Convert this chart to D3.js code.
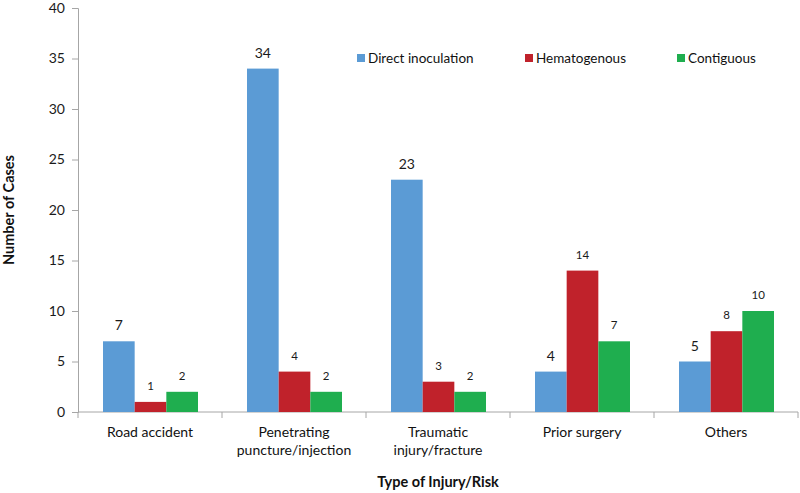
<!DOCTYPE html>
<html><head><meta charset="utf-8">
<script src="https://cdn.jsdelivr.net/npm/d3@7"></script>
<style>body{margin:0;background:#fff;}svg{display:block;font-family:Lato,"Open Sans",sans-serif;}</style>
</head><body><svg id="c" width="800" height="493"></svg>
<script>
const categories = [["Road accident"],["Penetrating","puncture/injection"],["Traumatic","injury/fracture"],["Prior surgery"],["Others"]];
const seriesNames = ["Direct inoculation","Hematogenous","Contiguous"];
const directInoculation = [7,34,23,4,5];
const hematogenous = [1,4,3,14,8];
const contiguous = [2,2,2,7,10];
const yTicks = [0,5,10,15,20,25,30,35,40];
const colors = ["#5b9bd5","#c0222b","#1fae4f"];

(function(){
const series = [directInoculation, hematogenous, contiguous];
const svg = d3.select("#c");
const mLeft = 78, mRight = 798, mTop = 8, mBottom = 412;
const x = d3.scaleBand().domain(d3.range(categories.length)).range([mLeft,mRight]).paddingInner(0).paddingOuter(0);
const x1 = d3.scaleBand().domain(d3.range(3)).range([25, x.bandwidth()-24]);
const y = d3.scaleLinear().domain([0,40]).range([mBottom, mTop]);

const ya = svg.append("g").attr("transform",`translate(${mLeft},0)`)
  .call(d3.axisLeft(y).tickValues(yTicks).tickSize(6).tickPadding(7));
ya.select(".domain").attr("stroke","#a6a6a6");
ya.selectAll(".tick line").attr("stroke","#a6a6a6");
ya.selectAll(".tick text").attr("font-size",14).attr("fill","#1a1a1a").attr("font-family","Lato,sans-serif");

const xa = svg.append("g");
xa.append("line").attr("x1",mLeft).attr("x2",mRight).attr("y1",mBottom).attr("y2",mBottom).attr("stroke","#a6a6a6");
d3.range(categories.length+1).forEach(i=>{
  const xx = i<categories.length ? x(i) : x(categories.length-1)+x.bandwidth();
  xa.append("line").attr("x1",xx).attr("x2",xx).attr("y1",mBottom).attr("y2",mBottom+6).attr("stroke","#a6a6a6");
});

categories.forEach((c,i)=>{
  series.forEach((s,j)=>{
    const bx = x(i)+x1(j), v = s[i];
    svg.append("rect").attr("x",bx).attr("y",y(v)).attr("width",x1.bandwidth()).attr("height",mBottom-y(v)).attr("fill",colors[j]);
    svg.append("text").attr("x",bx+x1.bandwidth()/2).attr("y",y(v)-(j===0?11:12))
      .attr("text-anchor","middle").attr("font-size",j===0?14:11.5).attr("fill","#1a1a1a").text(v);
  });
  const t = svg.append("text").attr("x",x(i)+x.bandwidth()/2).attr("y",437).attr("text-anchor","middle").attr("font-size",14).attr("fill","#111");
  c.forEach((line,k)=>t.append("tspan").attr("x",x(i)+x.bandwidth()/2).attr("dy",k===0?0:18).text(line));
});

const legX = [357, 525, 677];
seriesNames.forEach((n,j)=>{
  svg.append("rect").attr("x",legX[j]).attr("y",54).attr("width",8).attr("height",8).attr("fill",colors[j]);
  svg.append("text").attr("x",legX[j]+11).attr("y",63).attr("font-size",13.5).attr("fill","#111").text(n);
});

svg.append("text").attr("x",(mLeft+mRight)/2).attr("y",487).attr("text-anchor","middle").attr("font-size",14.5).attr("font-weight","bold").attr("fill","#111").text("Type of Injury/Risk");
svg.append("text").attr("transform","translate(14,210) rotate(-90)").attr("text-anchor","middle").attr("font-size",14.5).attr("font-weight","bold").attr("fill","#111").text("Number of Cases");
})();
</script></body></html>
